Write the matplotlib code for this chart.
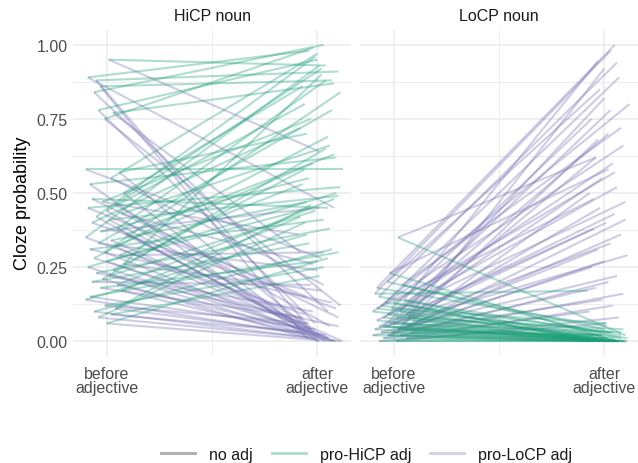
import matplotlib.pyplot as plt
from matplotlib.lines import Line2D

plt.rcParams['font.family'] = ['Liberation Sans', 'DejaVu Sans']

GREEN = '#1b9e77'
PURPLE = '#7570b3'

panels = ['HiCP noun', 'LoCP noun']
conditions = ['no adj', 'pro-HiCP adj', 'pro-LoCP adj']
x_labels = ['before\nadjective', 'after\nadjective']
y_ticks = [0.0, 0.25, 0.5, 0.75, 1.0]

# HiCP noun items: cloze before the adjective, after a pro-HiCP adj, after a pro-LoCP adj
hicp_before = [0.95, 0.89, 0.88, 0.86, 0.84, 0.78, 0.77, 0.75, 0.58, 0.57, 0.55, 0.53, 0.50,
               0.48, 0.47, 0.46, 0.45, 0.44, 0.43, 0.42, 0.41, 0.40, 0.38, 0.37, 0.36, 0.35,
               0.34, 0.33, 0.32, 0.31, 0.30, 0.29, 0.28, 0.27, 0.26, 0.25, 0.24, 0.23, 0.22,
               0.21, 0.20, 0.19, 0.18, 0.17, 0.15, 0.14, 0.12, 0.11, 0.10, 0.09, 0.08, 0.06]
hicp_after_hi = [0.93, 0.98, 0.91, 0.88, 1.00, 0.95, 0.87, 0.99, 0.58, 0.70, 0.97, 0.62, 0.86,
                 0.45, 0.75, 0.92, 0.52, 0.80, 0.66, 0.96, 0.49, 0.72, 0.88, 0.55, 0.63, 0.93,
                 0.47, 0.78, 0.60, 0.41, 0.84, 0.53, 0.69, 0.45, 0.90, 0.50, 0.58, 0.38, 0.44,
                 0.65, 0.33, 0.48, 0.27, 0.42, 0.30, 0.36, 0.25, 0.46, 0.31, 0.22, 0.40, 0.28]
hicp_after_lo = [0.64, 0.45, 0.04, 0.02, 0.10, 0.06, 0.30, 0.12, 0.28, 0.03, 0.19, 0.01, 0.00,
                 0.08, 0.36, 0.05, 0.15, 0.02, 0.26, 0.00, 0.07, 0.11, 0.03, 0.45, 0.01, 0.09,
                 0.00, 0.24, 0.04, 0.13, 0.02, 0.30, 0.06, 0.00, 0.17, 0.03, 0.01, 0.10, 0.05,
                 0.00, 0.19, 0.02, 0.08, 0.00, 0.04, 0.01, 0.06, 0.02, 0.00, 0.03, 0.01, 0.00]
hicp_x0 = [1.01, 0.91, 0.95, 0.97, 0.94, 0.96, 1.03, 0.99, 0.90, 1.06, 1.02, 0.92, 1.08,
           0.93, 0.98, 1.04, 0.91, 1.00, 1.07, 0.95, 1.01, 0.93, 1.05, 0.97, 1.09, 0.90,
           1.02, 0.96, 1.04, 0.92, 0.99, 1.06, 0.94, 1.00, 1.08, 0.91, 1.03, 0.95, 1.01,
           0.98, 0.93, 1.05, 0.97, 1.07, 0.92, 0.90, 0.99, 1.04, 0.94, 1.02, 0.96, 1.00]
hicp_x1_hi = [2.04, 1.96, 2.10, 2.07, 2.03, 2.00, 2.08, 1.98, 2.12, 1.95, 2.00, 2.09, 1.93,
              2.05, 1.97, 2.02, 2.11, 1.94, 2.06, 1.99, 2.10, 1.92, 2.04, 1.96, 2.08, 2.01,
              1.95, 2.07, 1.98, 2.03, 2.11, 1.93, 2.05, 1.97, 2.02, 2.09, 1.94, 2.06, 1.99,
              2.04, 1.96, 2.08, 2.00, 1.92, 2.10, 1.95, 2.03, 1.97, 2.07, 2.01, 1.94, 2.05]
hicp_x1_lo = [2.01, 2.08, 1.97, 1.94, 2.05, 1.99, 1.92, 2.11, 2.02, 1.98, 2.03, 1.96, 2.00,
              2.10, 1.91, 2.06, 1.95, 2.01, 1.98, 2.04, 1.93, 2.09, 1.97, 2.01, 2.05, 1.94,
              2.12, 2.00, 1.96, 2.07, 1.99, 2.03, 1.95, 2.08, 2.02, 1.92, 2.06, 1.98, 2.10,
              2.01, 1.97, 2.04, 1.93, 2.09, 1.99, 2.05, 1.96, 2.02, 2.11, 1.95, 2.00, 2.07]

# LoCP noun items
locp_before = [0.35, 0.23, 0.18, 0.16, 0.15, 0.14, 0.13, 0.12, 0.12, 0.11, 0.10, 0.10, 0.09,
               0.09, 0.08, 0.08, 0.07, 0.07, 0.06, 0.06, 0.06, 0.05, 0.05, 0.05, 0.04, 0.04,
               0.04, 0.03, 0.03, 0.03, 0.02, 0.02, 0.02, 0.01, 0.01, 0.00, 0.00, 0.20, 0.19,
               0.13, 0.11, 0.08, 0.05, 0.04, 0.02]
locp_after_hi = [0.02, 0.00, 0.05, 0.17, 0.02, 0.00, 0.03, 0.01, 0.00, 0.06, 0.00, 0.02, 0.01,
                 0.00, 0.04, 0.00, 0.02, 0.00, 0.01, 0.00, 0.03, 0.00, 0.01, 0.00, 0.02, 0.00,
                 0.01, 0.00, 0.00, 0.02, 0.00, 0.01, 0.00, 0.00, 0.00, 0.00, 0.00, 0.04, 0.01,
                 0.00, 0.03, 0.00, 0.01, 0.00, 0.00]
locp_after_lo = [0.62, 0.58, 1.00, 0.98, 0.94, 0.945, 0.89, 0.80, 0.82, 0.75, 0.70, 0.66, 0.62,
                 0.60, 0.55, 0.52, 0.50, 0.47, 0.45, 0.43, 0.40, 0.38, 0.36, 0.33, 0.31, 0.29,
                 0.27, 0.25, 0.22, 0.20, 0.18, 0.16, 0.14, 0.12, 0.10, 0.08, 0.06, 0.85, 0.72,
                 0.57, 0.48, 0.92, 0.78, 0.68, 0.41]
locp_x0 = [1.02, 0.98, 0.92, 0.91, 0.93, 1.05, 0.96, 0.94, 1.08, 0.99, 1.03, 0.90, 1.06,
           0.97, 1.01, 0.95, 1.09, 0.92, 1.04, 0.98, 1.00, 0.93, 1.07, 0.96, 1.02, 0.91,
           1.05, 0.99, 0.94, 1.08, 0.97, 1.03, 0.90, 1.06, 0.95, 1.01, 0.93, 0.97, 1.04,
           1.00, 0.92, 1.07, 0.95, 1.02, 0.98]
locp_x1_hi = [2.10, 2.06, 2.01, 1.92, 2.08, 1.98, 2.04, 2.11, 1.95, 2.01, 2.07, 1.99, 2.05,
              1.93, 2.09, 2.02, 1.97, 2.06, 2.00, 1.94, 2.08, 2.03, 1.96, 2.10, 1.99, 2.05,
              1.92, 2.07, 2.01, 1.95, 2.09, 2.02, 1.98, 2.04, 2.11, 1.97, 2.06, 2.00, 2.08,
              1.94, 2.03, 2.10, 1.99, 2.05, 1.93]
locp_x1_lo = [1.96, 2.02, 2.05, 2.03, 2.06, 1.97, 2.07, 2.12, 2.00, 1.94, 2.02, 2.09, 1.96,
              2.04, 1.99, 2.06, 1.93, 2.10, 1.98, 2.05, 2.01, 1.95, 2.08, 2.03, 1.97, 2.11,
              2.00, 1.94, 2.06, 2.02, 1.96, 2.09, 1.99, 2.04, 1.93, 2.07, 2.01, 1.98, 2.08,
              2.05, 1.95, 2.00, 2.03, 1.97, 2.10]

data = [
    (hicp_before, hicp_after_hi, hicp_after_lo, hicp_x0, hicp_x1_hi, hicp_x1_lo),
    (locp_before, locp_after_hi, locp_after_lo, locp_x0, locp_x1_hi, locp_x1_lo),
]

fig = plt.figure(figsize=(6.38, 4.64), dpi=100)
W, H = 638, 464
lefts = [73, 360]
axes = [fig.add_axes([l / W, 1 - 357 / H, 278 / W, 326 / H]) for l in lefts]

for i, ax in enumerate(axes):
    before, after_hi, after_lo, x0, x1h, x1l = data[i]
    for b, a, s, e in zip(before, after_lo, x0, x1l):
        ax.plot([s, e], [b, a], color=PURPLE, alpha=0.35, lw=1.5, solid_capstyle='butt')
    for b, a, s, e in zip(before, after_hi, x0, x1h):
        ax.plot([s, e], [b, a], color=GREEN, alpha=0.35, lw=1.5, solid_capstyle='butt')

    ax.set_xlim(0.84, 2.16)
    ax.set_ylim(-0.05, 1.05)
    ax.set_xticks([1, 2])
    ax.set_xticklabels(x_labels, linespacing=0.95)
    ax.set_xticks([1.5], minor=True)
    ax.set_yticks(y_ticks)
    ax.set_yticks([0.125, 0.375, 0.625, 0.875], minor=True)
    ax.grid(True, which='major', color='#EBEBEB', lw=1.1)
    ax.grid(True, which='minor', color='#EBEBEB', lw=0.6)
    ax.set_axisbelow(True)
    for sp in ax.spines.values():
        sp.set_visible(False)
    ax.tick_params(which='both', length=0, labelsize=11.5, colors='#4D4D4D')
    ax.tick_params(axis='x', pad=7)
    ax.tick_params(axis='y', pad=4)
    ax.set_title(panels[i], fontsize=11.5, color='#1A1A1A', pad=7)
    if i == 0:
        ax.set_yticklabels(['%.2f' % t for t in y_ticks])
        ax.set_ylabel('Cloze probability', fontsize=13, color='black')
        ax.yaxis.set_label_coords(-0.15, 0.47)
    else:
        ax.set_yticklabels([])

handles = [
    Line2D([], [], color='#7f7f7f', alpha=0.6, lw=2.2),
    Line2D([], [], color=GREEN, alpha=0.35, lw=2.2),
    Line2D([], [], color=PURPLE, alpha=0.3, lw=2.2),
]
fig.legend(handles, conditions, loc='center', bbox_to_anchor=(0.575, 0.019), ncol=3,
           frameon=False, fontsize=11.5, handlelength=2.1, columnspacing=1.2,
           handletextpad=0.9, labelcolor='#1A1A1A')

fig.savefig('out.png', dpi=100)
